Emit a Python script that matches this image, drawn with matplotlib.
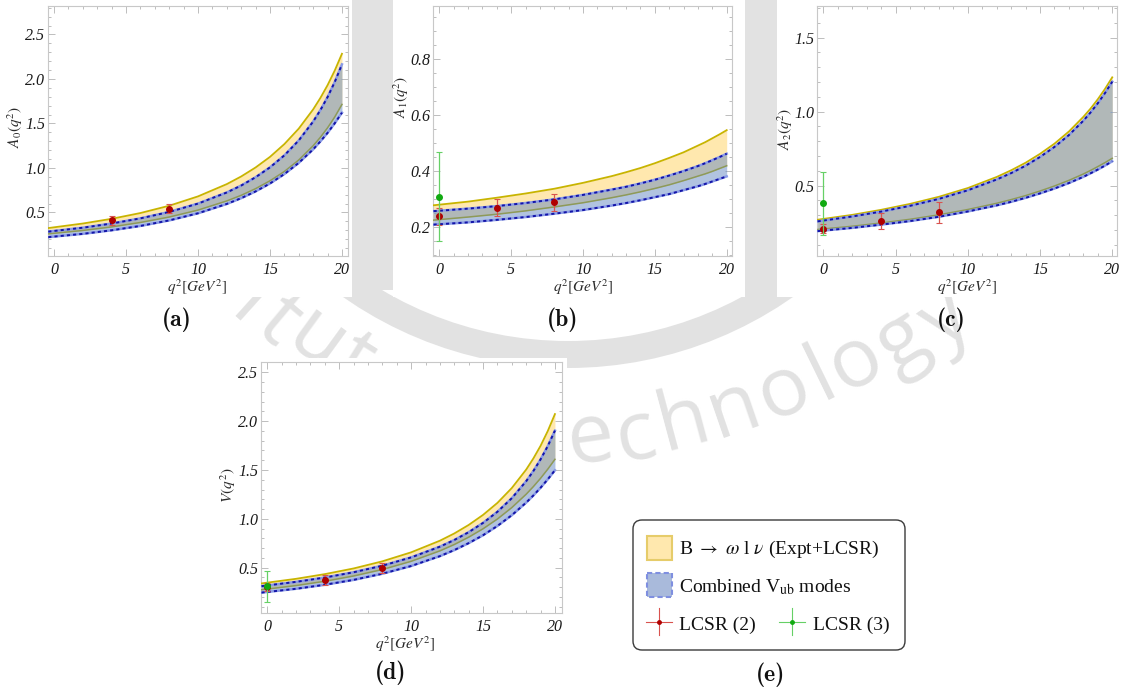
import matplotlib
matplotlib.use("Agg")
import matplotlib.pyplot as plt
from matplotlib.patches import Rectangle, FancyBboxPatch, Wedge
from matplotlib.ticker import MultipleLocator, FormatStrFormatter

plt.rcParams["mathtext.fontset"] = "stix"
plt.rcParams["font.family"] = ["Liberation Serif", "DejaVu Serif"]

# q^2 grid (GeV^2) on which the band edges are tabulated
q2 = [-0.4, 2, 4, 6, 8, 10, 12, 13, 14, 15, 16, 17, 18, 18.5, 19, 19.5, 20]

# A0 form factor: B -> omega l nu band (upper/lower) and combined Vub band (upper/lower)
A0_omega_hi = [0.324, 0.375, 0.428, 0.493, 0.575, 0.680, 0.818, 0.904, 1.005, 1.124, 1.268,
               1.442, 1.658, 1.786, 1.930, 2.095, 2.283]
A0_omega_lo = [0.259, 0.297, 0.337, 0.387, 0.448, 0.526, 0.629, 0.692, 0.767, 0.855, 0.960,
               1.089, 1.249, 1.344, 1.451, 1.573, 1.714]
A0_comb_hi = [0.284, 0.328, 0.375, 0.433, 0.505, 0.599, 0.724, 0.802, 0.895, 1.006, 1.141,
              1.309, 1.521, 1.649, 1.796, 1.966, 2.164]
A0_comb_lo = [0.222, 0.259, 0.299, 0.348, 0.410, 0.490, 0.595, 0.660, 0.736, 0.825, 0.931,
              1.057, 1.209, 1.298, 1.394, 1.502, 1.621]

# A1 form factor
A1_omega_hi = [0.279, 0.292, 0.306, 0.321, 0.338, 0.359, 0.383, 0.397, 0.412, 0.429, 0.448,
               0.468, 0.492, 0.504, 0.518, 0.532, 0.547]
A1_omega_lo = [0.226, 0.237, 0.247, 0.259, 0.273, 0.288, 0.306, 0.316, 0.327, 0.339, 0.352,
               0.367, 0.383, 0.391, 0.400, 0.410, 0.420]
A1_comb_hi = [0.258, 0.267, 0.276, 0.287, 0.300, 0.316, 0.335, 0.345, 0.357, 0.370, 0.385,
              0.401, 0.419, 0.429, 0.440, 0.451, 0.463]
A1_comb_lo = [0.210, 0.218, 0.227, 0.237, 0.249, 0.262, 0.278, 0.287, 0.297, 0.308, 0.319,
              0.333, 0.347, 0.355, 0.364, 0.373, 0.382]

# A2 form factor
A2_omega_hi = [0.270, 0.303, 0.337, 0.377, 0.425, 0.484, 0.559, 0.604, 0.655, 0.715, 0.784,
               0.866, 0.965, 1.021, 1.084, 1.154, 1.232]
A2_omega_lo = [0.204, 0.226, 0.248, 0.273, 0.303, 0.339, 0.381, 0.406, 0.433, 0.464, 0.498,
               0.536, 0.579, 0.603, 0.629, 0.656, 0.685]
A2_comb_hi = [0.259, 0.292, 0.325, 0.364, 0.411, 0.469, 0.542, 0.585, 0.635, 0.694, 0.762,
              0.842, 0.939, 0.995, 1.057, 1.126, 1.203]
A2_comb_lo = [0.193, 0.215, 0.237, 0.261, 0.290, 0.326, 0.367, 0.391, 0.418, 0.448, 0.481,
              0.518, 0.560, 0.584, 0.609, 0.636, 0.665]

# V form factor
V_omega_hi = [0.339, 0.386, 0.434, 0.492, 0.565, 0.657, 0.776, 0.850, 0.937, 1.040, 1.163,
              1.315, 1.504, 1.618, 1.747, 1.898, 2.072]
V_omega_lo = [0.274, 0.317, 0.361, 0.415, 0.481, 0.565, 0.672, 0.737, 0.812, 0.898, 0.998,
              1.115, 1.252, 1.330, 1.415, 1.508, 1.609]
V_comb_hi = [0.311, 0.355, 0.399, 0.453, 0.520, 0.605, 0.715, 0.783, 0.863, 0.958, 1.072,
             1.211, 1.385, 1.489, 1.608, 1.744, 1.903]
V_comb_lo = [0.245, 0.284, 0.325, 0.375, 0.438, 0.517, 0.618, 0.680, 0.751, 0.832, 0.927,
             1.037, 1.166, 1.239, 1.318, 1.404, 1.497]

# LCSR (2) points
A0_lcsr2_q, A0_lcsr2_v, A0_lcsr2_e = [4, 8], [0.41, 0.54], [0.05, 0.05]
A1_lcsr2_q, A1_lcsr2_v, A1_lcsr2_e = [0, 4, 8], [0.24, 0.27, 0.29], [0.03, 0.03, 0.03]
A2_lcsr2_q, A2_lcsr2_v, A2_lcsr2_e = [0, 4, 8], [0.21, 0.26, 0.32], [0.03, 0.055, 0.07]
V_lcsr2_q, V_lcsr2_v, V_lcsr2_e = [0, 4, 8], [0.30, 0.37, 0.50], [0.04, 0.05, 0.05]

# LCSR (3) points
A1_lcsr3_q, A1_lcsr3_v, A1_lcsr3_e = [0], [0.31], [0.16]
A2_lcsr3_q, A2_lcsr3_v, A2_lcsr3_e = [0], [0.38], [0.21]
V_lcsr3_q, V_lcsr3_v, V_lcsr3_e = [0], [0.31], [0.16]

W, H = 1125, 692
fig = plt.figure(figsize=(W / 100, H / 100), dpi=100)

# page layer in pixel coordinates (y downwards)
bg = fig.add_axes([0, 0, 1, 1], zorder=0)
bg.set_xlim(0, W)
bg.set_ylim(H, 0)
bg.axis("off")

# faint logo watermark behind the panels
WM = "#E2E2E2"
bg.add_patch(Wedge((568, -24), 392, 0, 180, width=27, color=WM, lw=0, zorder=0.2))
bg.add_patch(Rectangle((352, 0), 41, 290, color=WM, lw=0, zorder=0.2))
bg.add_patch(Rectangle((745, 0), 32, 295, color=WM, lw=0, zorder=0.2))
wm_letters = [("i", 250, 306, -42), ("t", 278, 322, -40), ("u", 316, 342, -36),
              ("t", 354, 362, -32),
              ("e", 590, 440, 8), ("c", 636, 437, 11), ("h", 684, 423, 15),
              ("n", 734, 410, 19), ("o", 784, 392, 23), ("l", 822, 376, 26),
              ("o", 856, 362, 29), ("g", 902, 342, 32), ("y", 946, 320, 35)]
for ch, x, y, r in wm_letters:
    bg.text(x, y, ch, fontsize=60, color=WM, rotation=r, ha="center", va="center",
            family="Open Sans", rotation_mode="anchor", zorder=0.3)

# white page areas of the individual panels
for x0, y0, x1, y1 in [(0, 0, 352, 297), (393, 0, 745, 297), (777, 0, 1125, 297),
                       (225, 358, 567, 660)]:
    bg.add_patch(Rectangle((x0, y0), x1 - x0, y1 - y0, color="white", lw=0, zorder=1))

YELLOW_FILL = "#FFE8AE"
BLUE_FILL = (101 / 255, 137 / 255, 195 / 255)
YELLOW_LINE = "#C8B400"
OLIVE_LINE = "#8E9A58"
RED_BAR, RED_PT = "#D9534F", "#B00000"
GREEN_BAR, GREEN_PT = "#66D066", "#11AA11"


def panel(box, xlim, ylim, ymaj, ymin, hi, lo, chi, clo, red, green=None):
    x0, x1, y0, y1 = box
    ax = fig.add_axes([x0 / W, 1 - y1 / H, (x1 - x0) / W, (y1 - y0) / H], zorder=2)
    ax.patch.set_alpha(0)
    ax.fill_between(q2, lo, hi, color=YELLOW_FILL, lw=0, zorder=1)
    ax.fill_between(q2, clo, chi, color=BLUE_FILL, alpha=0.5, lw=0, zorder=2)
    ax.plot(q2, hi, color=YELLOW_LINE, lw=1.3, zorder=3)
    ax.plot(q2, lo, color=OLIVE_LINE, lw=1.1, zorder=3)
    for edge in (chi, clo):
        ax.plot(q2, edge, color="#8A9BE6", lw=1.8, zorder=4)
        ax.plot(q2, edge, color="#1414A8", lw=1.4, ls=(0, (1.6, 1.6)), zorder=5)
    rq, rv, re = red
    ax.errorbar(rq, rv, yerr=re, fmt="none", ecolor=RED_BAR, elinewidth=0.9,
                capsize=2.5, capthick=0.8, zorder=6)
    ax.plot(rq, rv, "o", ms=4, color=RED_PT, zorder=7)
    if green is not None:
        gq, gv, ge = green
        ax.errorbar(gq, gv, yerr=ge, fmt="none", ecolor=GREEN_BAR, elinewidth=0.9,
                    capsize=2.5, capthick=0.8, zorder=8)
        ax.plot(gq, gv, "o", ms=4, color=GREEN_PT, zorder=9)
    ax.set_xlim(*xlim)
    ax.set_ylim(*ylim)
    ax.xaxis.set_major_locator(MultipleLocator(5))
    ax.xaxis.set_minor_locator(MultipleLocator(1))
    ax.yaxis.set_major_locator(MultipleLocator(ymaj))
    ax.yaxis.set_minor_locator(MultipleLocator(ymin))
    ax.xaxis.set_major_formatter(FormatStrFormatter("%d"))
    ax.yaxis.set_major_formatter(FormatStrFormatter("%.1f"))
    ax.tick_params(which="both", direction="in", top=True, right=True,
                   color="#BDBDBD", width=0.7, labelcolor="#1a1a1a", labelsize=11.5)
    ax.tick_params(which="major", length=5)
    ax.tick_params(which="minor", length=2.5)
    ax.tick_params(axis="y", pad=2)
    ax.tick_params(axis="x", pad=4)
    for s in ax.spines.values():
        s.set_color("#C8C8C8")
        s.set_linewidth(0.8)
    # build the ticks now so that the italic style is part of their labels
    ax.get_xticklabels()
    ax.get_yticklabels()
    return ax


with plt.rc_context({"font.style": "italic"}):
    panel((48, 348, 6, 256), (-0.42, 20.42), (0.01, 2.82), 0.5, 0.1,
          A0_omega_hi, A0_omega_lo, A0_comb_hi, A0_comb_lo,
          (A0_lcsr2_q, A0_lcsr2_v, A0_lcsr2_e))
    panel((433.3, 732.3, 6, 256), (-0.42, 20.39), (0.098, 0.99), 0.2, 0.05,
          A1_omega_hi, A1_omega_lo, A1_comb_hi, A1_comb_lo,
          (A1_lcsr2_q, A1_lcsr2_v, A1_lcsr2_e), (A1_lcsr3_q, A1_lcsr3_v, A1_lcsr3_e))
    panel((817.3, 1117.3, 6, 256), (-0.42, 20.35), (0.025, 1.714), 0.5, 0.1,
          A2_omega_hi, A2_omega_lo, A2_comb_hi, A2_comb_lo,
          (A2_lcsr2_q, A2_lcsr2_v, A2_lcsr2_e), (A2_lcsr3_q, A2_lcsr3_v, A2_lcsr3_e))
    panel((260.7, 561.7, 362, 613.3), (-0.46, 20.47), (0.033, 2.605), 0.5, 0.1,
          V_omega_hi, V_omega_lo, V_comb_hi, V_comb_lo,
          (V_lcsr2_q, V_lcsr2_v, V_lcsr2_e), (V_lcsr3_q, V_lcsr3_v, V_lcsr3_e))

# axis titles and sub-figure tags
LAB = "#2a2a2a"
for txt, x, y in [(r"$A_{0}(q^{2})$", 15, 127), (r"$A_{1}(q^{2})$", 401, 97),
                  (r"$A_{2}(q^{2})$", 785, 129), (r"$V(q^{2})$", 228, 485)]:
    bg.text(x, y, txt, rotation=90, ha="center", va="center", fontsize=11, color=LAB,
            zorder=3)
for x, y in [(197, 287), (583, 287), (967, 287), (405, 644)]:
    bg.text(x, y, r"$q^{2}[GeV^{2}]$", ha="center", va="center", fontsize=11, color=LAB,
            zorder=3)
for tag, x, y in [("(a)", 177, 320), ("(b)", 563, 320), ("(c)", 951, 320),
                  ("(d)", 391, 673), ("(e)", 770, 675)]:
    bg.text(x, y, tag, ha="center", va="center", fontsize=17, family="cmb10", color="#111",
            zorder=3)

# legend panel
bg.add_patch(FancyBboxPatch((633, 520), 272, 130, boxstyle="round,pad=0,rounding_size=9",
                            fc="white", ec="#3a3a3a", lw=1.0, zorder=3))
bg.add_patch(Rectangle((647, 536), 25, 24, fc=YELLOW_FILL, ec="#E6CC6A", lw=1.5, zorder=4))
bg.add_patch(Rectangle((647, 573), 25, 24, fc="#A9BADB", ec="#7F8FE0", lw=1.5,
                       ls=(0, (2.5, 1.5)), zorder=4))
for cx, bar, pt in [(659, RED_BAR, RED_PT), (792, GREEN_BAR, GREEN_PT)]:
    bg.plot([cx - 13, cx + 13], [622, 622], color=bar, lw=0.8, zorder=4)
    bg.plot([cx, cx], [608, 635], color=bar, lw=0.8, zorder=4)
    bg.plot(cx, 622, "o", ms=2.5, color=pt, zorder=5)
LEG = dict(fontsize=14, color="#111", va="baseline", zorder=5)
bg.text(679, 554, r"B $\rightarrow$ $\omega$ l $\nu$ (Expt+LCSR)", **LEG)
bg.text(679, 592, r"Combined V$_{\mathrm{ub}}$ modes", **LEG)
bg.text(679, 630, "LCSR (2)", **LEG)
bg.text(813, 630, "LCSR (3)", **LEG)

fig.savefig("out.png", dpi=100)
